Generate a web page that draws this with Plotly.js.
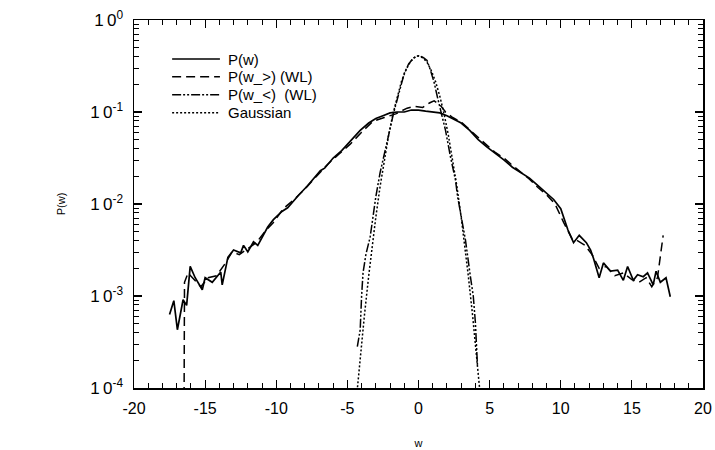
<!DOCTYPE html>
<html>
<head>
<meta charset="utf-8">
<script src="https://cdn.plot.ly/plotly-3.0.1.min.js"></script>
<style>html,body{margin:0;padding:0;background:#fff;} #chart{width:715px;height:450px;}</style>
</head>
<body>
<div id="chart"></div>
<script>
// P(w) — solid
const wP = [-17.5, -17.2, -16.95, -16.55, -16.3, -16.05, -15.7, -15.2, -15.0, -14.5, -13.9, -13.8, -13.4, -13.0, -12.5, -12.3, -12.0, -11.6, -11.3, -10.6, -10.2, -9.6, -9.2, -8.7, -8.4, -7.8, -7.2, -6.9, -6.6, -6.0, -5.4, -4.8, -4.1, -3.5, -3.0, -2.5, -2.0, -1.5, -1.0, -0.5, 0, 0.5, 1.0, 1.5, 2.0, 2.5, 3.0, 3.6, 4.2, 4.8, 5.4, 6.0, 6.6, 7.2, 7.8, 8.4, 9.0, 9.5, 10.0, 10.5, 10.9, 11.3, 11.8, 12.1, 12.3, 12.7, 13.0, 13.5, 14.0, 14.4, 14.7, 15.1, 15.4, 15.8, 16.1, 16.5, 16.7, 17.0, 17.4, 17.7];
const pP = [6.3e-4, 8.9e-4, 4.3e-4, 9.1e-4, 7.9e-4, 2.1e-3, 1.58e-3, 1.17e-3, 1.58e-3, 1.41e-3, 1.82e-3, 1.32e-3, 2.63e-3, 3.16e-3, 2.95e-3, 3.55e-3, 3.02e-3, 3.89e-3, 3.55e-3, 5.62e-3, 6.76e-3, 8.3e-3, 9.1e-3, 1.12e-2, 1.26e-2, 1.58e-2, 2.0e-2, 2.3e-2, 2.45e-2, 3.16e-2, 3.8e-2, 4.79e-2, 6.31e-2, 7.59e-2, 8.51e-2, 9.12e-2, 9.77e-2, 0.1, 0.1, 0.105, 0.105, 0.102, 0.1, 0.0977, 0.0912, 0.0832, 0.0759, 0.0631, 0.0501, 0.0417, 0.0355, 0.0302, 0.0251, 0.0219, 0.0191, 0.0158, 0.0132, 0.0112, 8.9e-3, 5.25e-3, 3.8e-3, 4.57e-3, 3.8e-3, 3.16e-3, 2.57e-3, 1.58e-3, 2.29e-3, 1.86e-3, 1.91e-3, 1.48e-3, 2.09e-3, 1.48e-3, 1.7e-3, 1.62e-3, 1.78e-3, 1.32e-3, 1.86e-3, 1.41e-3, 1.58e-3, 9.8e-4];

// P(w_>) (WL) — dashed
const wGt = [-16.5, -16.45, -16.2, -15.8, -15.3, -14.8, -14.2, -13.6, -13.1, -12.6, -12.0, -11.4, -10.8, -10.2, -9.5, -8.8, -8.0, -7.2, -6.4, -5.6, -4.8, -4.0, -3.2, -2.4, -1.6, -0.8, -0.3, 0.3, 0.8, 1.1, 1.5, 1.9, 2.4, 3.0, 3.6, 4.2, 4.8, 5.4, 6.0, 6.6, 7.2, 7.8, 8.4, 9.0, 9.6, 10.2, 10.8, 11.2, 11.7, 12.2, 12.7, 13.2, 13.8, 14.4, 15.0, 15.5, 16.0, 16.4, 16.8, 17.2];
const pGt = [1e-5, 1.41e-3, 1.78e-3, 1.51e-3, 1.26e-3, 1.58e-3, 1.66e-3, 2.24e-3, 3.02e-3, 2.82e-3, 3.31e-3, 3.8e-3, 5.01e-3, 6.31e-3, 8.91e-3, 1.1e-2, 1.45e-2, 2.0e-2, 2.69e-2, 3.47e-2, 4.47e-2, 6.03e-2, 7.94e-2, 8.71e-2, 9.55e-2, 0.11, 0.115, 0.112, 0.126, 0.132, 0.12, 0.1, 8.71e-2, 7.76e-2, 6.46e-2, 5.25e-2, 4.37e-2, 3.63e-2, 3.16e-2, 2.63e-2, 2.19e-2, 1.86e-2, 1.51e-2, 1.26e-2, 1e-2, 6.31e-3, 4.17e-3, 3.98e-3, 3.55e-3, 2.82e-3, 2.0e-3, 2.09e-3, 1.66e-3, 1.78e-3, 1.51e-3, 1.41e-3, 1.58e-3, 1.26e-3, 1.58e-3, 4.57e-3];

// P(w_<) (WL) — dash-dot-dot
const wLt = [-4.3, -4.1, -4.0, -3.9, -3.7, -3.4, -3.2, -3.0, -2.7, -2.45, -2.2, -1.95, -1.75, -1.5, -1.3, -1.0, -0.7, -0.4, -0.15, 0.1, 0.35, 0.6, 0.85, 1.1, 1.35, 1.55, 1.9, 2.25, 2.6, 2.75, 2.96, 3.3, 3.65, 3.85, 4.0, 4.15];
const pLt = [2.82e-4, 4.27e-4, 1e-3, 1.78e-3, 2.82e-3, 4.37e-3, 7.24e-3, 1.2e-2, 2.19e-2, 3.16e-2, 4.57e-2, 7.08e-2, 9.77e-2, 0.138, 0.186, 0.263, 0.331, 0.38, 0.407, 0.407, 0.389, 0.363, 0.282, 0.209, 0.141, 0.105, 6.31e-2, 3.24e-2, 1.82e-2, 1.2e-2, 7.94e-3, 4.07e-3, 1.62e-3, 1e-3, 5.13e-4, 1.7e-4];

// Gaussian — dotted
const wG = [-4.45, -4.2, -4.0, -3.8, -3.5, -3.2, -3.0, -2.7, -2.4, -2.1, -1.8, -1.5, -1.2, -0.9, -0.6, -0.3, 0, 0.3, 0.6, 0.9, 1.2, 1.5, 1.8, 2.1, 2.4, 2.7, 3.0, 3.2, 3.5, 3.8, 4.0, 4.2, 4.45];
const pG = [5.6e-5, 1.48e-4, 3.1e-4, 6.2e-4, 1.66e-3, 4.1e-3, 7.2e-3, 1.55e-2, 3.1e-2, 5.6e-2, 9.5e-2, 0.148, 0.214, 0.282, 0.347, 0.389, 0.407, 0.389, 0.347, 0.282, 0.214, 0.148, 9.5e-2, 5.6e-2, 3.1e-2, 1.55e-2, 7.2e-3, 4.1e-3, 1.66e-3, 6.2e-4, 3.1e-4, 1.48e-4, 5.6e-5];

const names = ['P(w)', 'P(w_>) (WL)', 'P(w_<)\u00A0 (WL)', 'Gaussian'];
const yTickVals = [1e-4, 1e-3, 1e-2, 1e-1, 1];
const yTickText = ['1\u20090<sup>-4</sup>', '1\u20090<sup>-3</sup>', '1\u20090<sup>-2</sup>', '1\u20090<sup>-1</sup>', '1\u20090<sup>0</sup>'];
const xTickVals = [-20, -15, -10, -5, 0, 5, 10, 15, 20];
const xTickText = ['-20', '-15', '-10', '-5', '0', '5', '10', '15', '20'];

const minorY = [];
for (let e = -4; e < 0; e++) for (let d = 2; d <= 9; d++) minorY.push(d * Math.pow(10, e));
const minorX = [];
for (let v = -19; v <= 19; v++) if (v % 5 !== 0) minorX.push(v);

const font = 'Liberation Sans, Arial, Helvetica, sans-serif';
const styles = [
  {color: '#000', width: 1.7, dash: 'solid'},
  {color: '#000', width: 1.5, dash: '9px,5px'},
  {color: '#000', width: 1.5, dash: '9px,2px,2px,2px,2px,2px'},
  {color: '#000', width: 1.5, dash: '2px,2px'}
];
const xs = [wP, wGt, wLt, wG];
const ys = [pP, pGt, pLt, pG];
const traces = xs.map((x, i) => ({x: x, y: ys[i], name: names[i], mode: 'lines', line: styles[i], showlegend: false}));

// hand-placed legend (paper coordinates)
const legX0 = 0.067, legX1 = 0.151, legTextX = 0.162;
const legY = [0.894, 0.846, 0.797, 0.748];
const shapes = names.map((n, i) => ({type: 'line', xref: 'paper', yref: 'paper',
  x0: legX0, x1: legX1, y0: legY[i], y1: legY[i], line: styles[i]}));
const annotations = names.map((n, i) => ({xref: 'paper', yref: 'paper', x: legTextX, y: legY[i],
  xanchor: 'left', yanchor: 'middle', text: n, showarrow: false, font: {family: font, size: 15, color: '#000'}}));

const layout = {
  width: 715, height: 450,
  margin: {l: 134, r: 12, t: 20, b: 62},
  paper_bgcolor: '#fff', plot_bgcolor: '#fff',
  font: {family: font, color: '#000', size: 15},
  showlegend: false,
  shapes: shapes,
  annotations: annotations,
  xaxis: {
    range: [-20, 20], tickmode: 'array', tickvals: xTickVals, ticktext: xTickText,
    showgrid: false, zeroline: false, showline: true, linecolor: '#000', linewidth: 1.5,
    mirror: 'allticks', ticks: 'inside', ticklen: 8, tickwidth: 1.2, tickcolor: '#000',
    minor: {tickmode: 'array', tickvals: minorX, ticks: 'inside', ticklen: 5, tickwidth: 1, tickcolor: '#000', showgrid: false},
    tickfont: {size: 16}, ticklabelstandoff: 5,
    title: {text: 'w', font: {size: 11}, standoff: 23}
  },
  yaxis: {
    type: 'log', range: [-4, 0], tickmode: 'array', tickvals: yTickVals, ticktext: yTickText,
    showgrid: false, zeroline: false, showline: true, linecolor: '#000', linewidth: 1.5,
    mirror: 'allticks', ticks: 'inside', ticklen: 8, tickwidth: 1.2, tickcolor: '#000',
    minor: {tickmode: 'array', tickvals: minorY, ticks: 'inside', ticklen: 5, tickwidth: 1, tickcolor: '#000', showgrid: false},
    tickfont: {size: 17}, ticklabelstandoff: 6,
    title: {text: 'P(w)', font: {size: 11}, standoff: 22}
  }
};

Plotly.newPlot('chart', traces, layout, {displayModeBar: false, staticPlot: true});
</script>
</body>
</html>
